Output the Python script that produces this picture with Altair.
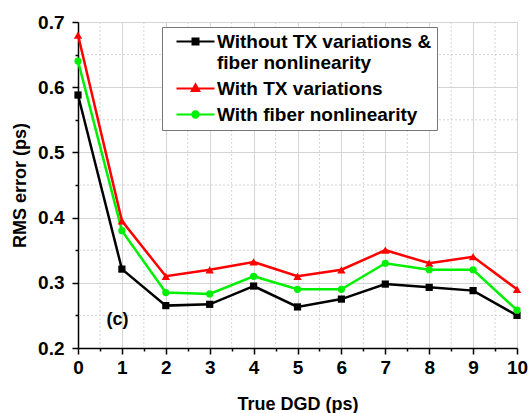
import altair as alt
import pandas as pd

x_dgd = list(range(11))
rms_base = [0.588, 0.321, 0.265, 0.267, 0.295, 0.263, 0.275, 0.298, 0.293, 0.288, 0.250]
rms_tx = [0.680, 0.395, 0.310, 0.320, 0.332, 0.310, 0.320, 0.350, 0.330, 0.340, 0.290]
rms_fiber = [0.640, 0.380, 0.285, 0.283, 0.310, 0.290, 0.290, 0.330, 0.320, 0.320, 0.258]
series_names = ["Without TX variations & fiber nonlinearity", "With TX variations", "With fiber nonlinearity"]
series_colors = ["#000000", "#ff0000", "#00f000"]
series_shapes = ["square", "triangle-up", "circle"]
legend_paths = [
    "M-4.75,0H4.75M-0.75,-0.75H0.75V0.75H-0.75Z",
    "M-4.75,0H4.75M0,-1.05L0.95,0.6H-0.95Z",
    "M-4.75,0H4.75M-0.8,0A0.8,0.8 0 1,0 0.8,0A0.8,0.8 0 1,0 -0.8,0Z",
]
x_major = list(range(11))
x_minor = [i + 0.5 for i in range(10)]
y_major = [0.2, 0.3, 0.4, 0.5, 0.6, 0.7]
y_minor = [0.25, 0.35, 0.45, 0.55, 0.65]
panel_label = "(c)"
panel_label_x = 0.9
panel_label_y = 0.243

rows = []
for name, vals in zip(series_names, [rms_base, rms_tx, rms_fiber]):
    for xv, yv in zip(x_dgd, vals):
        rows.append({"dgd": xv, "rms": yv, "series": name})
df = pd.DataFrame(rows)

FONT = "Liberation Sans"

common_axis = dict(
    titleFontSize=18, titleFontWeight="bold", titleFont=FONT, titleColor="black",
    labelFontSize=19, labelFontWeight="bold", labelFont=FONT, labelColor="black",
    labelFlush=False, labelOverlap=False,
    tickSize=6, tickColor="black", tickWidth=1.5,
    domainColor="black", domainWidth=1.5,
    grid=True, gridColor="#d4d4d4", gridWidth=1,
)
x_axis = alt.Axis(values=x_major, format="d", title="True DGD (ps)", orient="bottom",
                  titlePadding=18, labelPadding=4, **common_axis)
y_axis = alt.Axis(values=y_major, format=".1f", title="RMS error (ps)", orient="left",
                  titlePadding=8, labelPadding=8, **common_axis)

minor_axis = dict(labels=False, domain=False, grid=False, title=None, tickSize=3,
                  tickColor="black", tickWidth=1.5)

xs = alt.Scale(domain=[0, 10], nice=False, zero=False)
ys = alt.Scale(domain=[0.2, 0.7], nice=False, zero=False)
cs = alt.Scale(domain=series_names, range=series_colors)

# minor grid + minor ticks
xminor_df = pd.DataFrame({"v": x_minor})
yminor_df = pd.DataFrame({"v": y_minor})
xminor = alt.Chart(xminor_df).mark_rule(color="#d4d4d4", strokeDash=[2, 2], strokeWidth=1).encode(
    x=alt.X("v:Q", scale=xs, axis=alt.Axis(values=x_minor, orient="bottom", **minor_axis)),
)
yminor = alt.Chart(yminor_df).mark_rule(color="#d4d4d4", strokeDash=[2, 2], strokeWidth=1).encode(
    y=alt.Y("v:Q", scale=ys, axis=alt.Axis(values=y_minor, orient="left", **minor_axis)),
)

base = alt.Chart(df)

lines = base.mark_line(strokeWidth=2.5).encode(
    x=alt.X("dgd:Q", scale=xs, axis=x_axis),
    y=alt.Y("rms:Q", scale=ys, axis=y_axis),
    color=alt.Color("series:N", scale=cs, legend=None),
)
points = base.mark_point(filled=True, opacity=1).encode(
    x=alt.X("dgd:Q", scale=xs, axis=None),
    y=alt.Y("rms:Q", scale=ys, axis=None),
    color=alt.Color("series:N", scale=cs, legend=None),
    shape=alt.Shape("series:N", scale=alt.Scale(domain=series_names, range=series_shapes), legend=None),
    size=alt.condition("datum.series == 'With TX variations'", alt.value(70), alt.value(52)),
)

legend_layer = base.transform_filter("false").mark_point(filled=False, opacity=1, strokeWidth=2).encode(
    x=alt.X("dgd:Q", scale=xs, axis=None),
    y=alt.Y("rms:Q", scale=ys, axis=None),
    color=alt.Color("series:N", scale=cs, legend=alt.Legend(
        title=None, orient="none", legendX=84, legendY=5,
        fillColor="white", strokeColor="#777777", padding=5,
        labelFont=FONT, labelFontSize=19, labelFontWeight="bold", labelColor="black",
        labelLimit=400, symbolSize=64, symbolStrokeWidth=2, rowPadding=6,
        symbolOffset=19, labelOffset=12,
        labelExpr="datum.label == 'Without TX variations & fiber nonlinearity' ? ['Without TX variations &', 'fiber nonlinearity'] : datum.label",
        symbolOpacity=1,
    )),
    fill=alt.Fill("series:N", scale=alt.Scale(domain=series_names, range=series_colors), legend=None),
    shape=alt.Shape("series:N", scale=alt.Scale(domain=series_names, range=legend_paths), legend=None),
)

label_df = pd.DataFrame({"x": [panel_label_x], "y": [panel_label_y], "t": [panel_label]})
label = alt.Chart(label_df).mark_text(font=FONT, fontSize=18, fontWeight="bold", color="black").encode(
    x=alt.X("x:Q", scale=xs, axis=None),
    y=alt.Y("y:Q", scale=ys, axis=None),
    text="t:N",
)

chart = alt.layer(xminor, yminor, lines, points, label, legend_layer).resolve_scale(
    shape="independent"
).resolve_axis(x="independent", y="independent").resolve_legend(
    color="independent", shape="independent", fill="independent"
).properties(
    width=439, height=326,
    autosize=alt.AutoSizeParams(type="none"),
    padding={"left": 78, "top": 22, "right": 14, "bottom": 65},
).configure_view(stroke="black", strokeWidth=1.5).configure(background="white")

chart.save("out.html", embed_options={"renderer": "svg", "actions": False})
